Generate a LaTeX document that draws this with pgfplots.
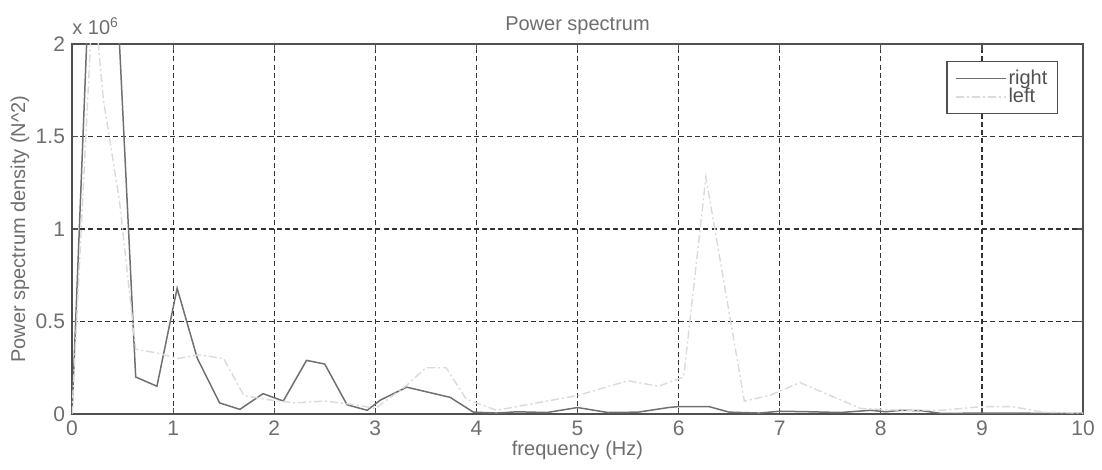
\documentclass[border=0pt]{standalone}
\usepackage{pgfplots}
\pgfplotsset{compat=1.18}
\usepackage{fontspec}
\setmainfont{Liberation Sans}

\definecolor{txtgray}{HTML}{6E6E6E}
\definecolor{boxgray}{HTML}{505050}
\definecolor{rightline}{HTML}{707070}
\definecolor{leftline}{HTML}{DADADA}

\begin{document}
\begin{tikzpicture}
\begin{axis}[
    name=ax,
    scale only axis,
    width=505.5pt,
    height=185pt,
    xmin=0, xmax=10,
    ymin=0, ymax=2,
    xtick={0,1,...,10},
    ytick={0,0.5,1,1.5,2},
    yticklabels={0,0.5,1,1.5,2},
    /pgf/number format/assume math mode=true,
    tick label style={font=\fontsize{10.5}{12}\selectfont, text=txtgray},
    tick align=inside,
    major tick length=3pt,
    tick style={boxgray, line width=0.6pt},
    axis line style={boxgray, line width=0.7pt},
    grid=major,
    major grid style={black!80, line width=0.6pt, dash pattern=on 2.5pt off 1.6pt},
    title={Power spectrum},
    title style={at={(rel axis cs:0.5,1)}, anchor=base, yshift=0.5pt,
        font=\fontsize{10}{12}\selectfont, text=txtgray},
    xlabel={frequency (Hz)},
    xlabel style={at={(rel axis cs:0.5,0)}, anchor=center, yshift=-18pt,
        font=\fontsize{10}{12}\selectfont, text=txtgray},
    ylabel={Power spectrum density (N\textasciicircum 2)},
    every axis y label/.style={at={(rel axis cs:0,0.5)}, anchor=center,
        xshift=-26pt, rotate=90,
        font=\fontsize{10}{12}\selectfont, text=txtgray},
    legend style={at={(rel axis cs:1,1)}, anchor=north east, xshift=-12.5pt, yshift=-8.5pt,
        draw=boxgray, line width=0.6pt, inner xsep=4pt, inner ysep=3pt,
        font=\fontsize{10}{8}\selectfont, text=boxgray, row sep=-1.5pt,
        nodes={inner sep=1pt}},
    legend cell align=left,
    legend image code/.code={\draw[#1] (0pt,0pt) -- (25pt,0pt);},
]
% right
\addplot[rightline, line width=0.75pt] coordinates {
    (0,0) (0.21,2.9) (0.42,2.56) (0.63,0.20) (0.84,0.15) (1.04,0.68)
    (1.24,0.30) (1.46,0.06) (1.66,0.025) (1.89,0.11) (2.09,0.07)
    (2.32,0.29) (2.50,0.27) (2.72,0.05) (2.92,0.02) (3.05,0.075)
    (3.31,0.145) (3.74,0.09) (3.97,0.01) (4.2,0.005) (4.4,0.012)
    (4.7,0.008) (5.0,0.035) (5.3,0.008) (5.6,0.01) (5.9,0.035)
    (6.0,0.04) (6.3,0.04) (6.5,0.01) (6.8,0.005) (7.0,0.015)
    (7.3,0.012) (7.6,0.008) (7.9,0.02) (8.05,0.012) (8.2,0.02)
    (8.4,0.018) (8.6,0.003) (9.0,0.005) (9.5,0.004) (10,0.003)
};
\addlegendentry{right}
% left
\addplot[leftline, line width=0.7pt, dash pattern=on 4pt off 1.5pt on 1pt off 1.5pt] coordinates {
    (0,0) (0.21,2.3) (0.31,1.7) (0.47,1.15) (0.63,0.35) (0.84,0.33)
    (1.05,0.3) (1.25,0.32) (1.5,0.3) (1.7,0.1) (1.9,0.08) (2.2,0.06)
    (2.5,0.07) (2.8,0.05) (3.0,0.03) (3.3,0.15) (3.5,0.25) (3.7,0.25)
    (3.9,0.08) (4.2,0.02) (4.5,0.05) (5.0,0.1) (5.5,0.18) (5.8,0.15)
    (6.05,0.2) (6.27,1.28) (6.65,0.07) (6.9,0.1) (7.2,0.17) (7.5,0.1)
    (7.8,0.03) (8.2,0.02) (8.6,0.02) (9.0,0.04) (9.3,0.04) (9.6,0.01)
    (10,0.005)
};
\addlegendentry{left}
\end{axis}
\node[anchor=base west, inner sep=0pt, yshift=4.5pt, text=txtgray,
      font=\fontsize{10}{12}\selectfont] at (ax.north west) {x 10\textsuperscript{6}};
\path ([xshift=-36pt,yshift=-28pt]ax.south west) rectangle ([xshift=9.5pt,yshift=22pt]ax.north east);
\end{tikzpicture}
\end{document}
